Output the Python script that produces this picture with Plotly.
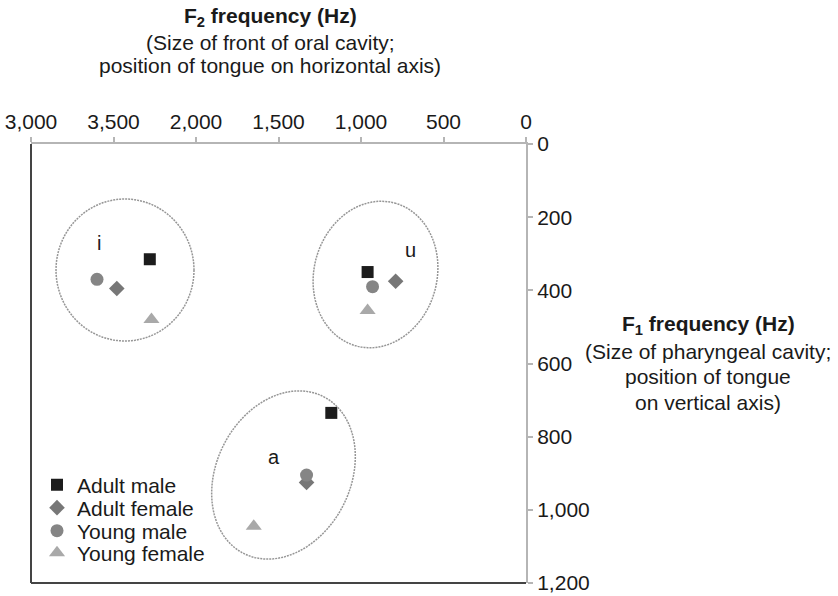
import numpy as np
import plotly.graph_objects as go

# ---- data ----
series_names = ["Adult male", "Adult female", "Young male", "Young female"]
vowels = ["i", "u", "a"]
# F2 (Hz) per vowel [i, u, a]
f2_adult_male = [2280, 960, 1180]
f2_adult_female = [2480, 790, 1330]
f2_young_male = [2600, 930, 1330]
f2_young_female = [2270, 960, 1650]
# F1 (Hz) per vowel [i, u, a]
f1_adult_male = [315, 350, 735]
f1_adult_female = [395, 375, 925]
f1_young_male = [370, 390, 905]
f1_young_female = [480, 455, 1045]

x_tickvals = [3000, 2500, 2000, 1500, 1000, 500, 0]
x_ticktext = ["3,000", "3,500", "2,000", "1,500", "1,000", "500", "0"]
y_tickvals = [0, 200, 400, 600, 800, 1000, 1200]
y_ticktext = ["0", "200", "400", "600", "800", "1,000", "1,200"]

# vowel label positions (F2, F1)
vowel_label_f2 = [2590, 700, 1530]
vowel_label_f1 = [270, 290, 855]

FONT = "Liberation Sans, Arial, Helvetica, sans-serif"
TXT = "#1a1a1a"

W, H = 838, 596
L, R, T, B = 31, 526, 144, 583

styles = [
    dict(symbol="square", color="#1c1c1c", size=12),
    dict(symbol="diamond", color="#777777", size=12),
    dict(symbol="circle", color="#858585", size=13),
    dict(symbol="triangle-up", color="#a9a9a9", size=14),
]
f2s = [f2_adult_male, f2_adult_female, f2_young_male, f2_young_female]
f1s = [f1_adult_male, f1_adult_female, f1_young_male, f1_young_female]
legend_ids = ["legend", "legend2", "legend3", "legend4"]
legend_rows_px = [485, 508, 531, 553]

fig = go.Figure()
for name, st, xs, ys, lid in zip(series_names, styles, f2s, f1s, legend_ids):
    fig.add_trace(go.Scatter(
        x=xs, y=ys, mode="markers", name=name, legend=lid,
        marker=dict(symbol=st["symbol"], color=st["color"], size=st["size"], line=dict(width=0)),
    ))

# ---- ellipses (grouping outlines) ----
sx = (R - L) / 3000.0
sy = (B - T) / 1200.0


def to_data(px, py):
    return (R - px) / sx, (py - T) / sy


def ellipse_path(cx, cy, a, b, theta_deg):
    th = np.radians(theta_deg)
    u = np.array([np.sin(th), -np.cos(th)])
    v = np.array([np.cos(th), np.sin(th)])
    t = np.linspace(0, 2 * np.pi, 120)
    pts = []
    for tt in t:
        p = np.array([cx, cy]) + a * np.cos(tt) * u + b * np.sin(tt) * v
        pts.append(to_data(p[0], p[1]))
    return "M " + " L ".join(f"{x:.2f},{y:.2f}" for x, y in pts) + " Z"

ell_style = dict(color="#969696", width=1.5, dash="2px,1px")
fig.add_shape(type="path", xref="x", yref="y", path=ellipse_path(125, 270, 69, 71, 90), line=ell_style)
fig.add_shape(type="path", xref="x", yref="y", path=ellipse_path(375.5, 274.5, 74, 61.5, 15), line=ell_style)
fig.add_shape(type="path", xref="x", yref="y", path=ellipse_path(283.5, 475, 88, 67, 27), line=ell_style)

# dark left/bottom frame lines
fig.add_shape(type="line", xref="paper", yref="paper", x0=0, x1=0, y0=0, y1=1,
              line=dict(color="#444444", width=2))
fig.add_shape(type="line", xref="paper", yref="paper", x0=0, x1=1, y0=0, y1=0,
              line=dict(color="#444444", width=2))

# vowel labels
for v, xv, yv in zip(vowels, vowel_label_f2, vowel_label_f1):
    fig.add_annotation(x=xv, y=yv, xref="x", yref="y", text=v, showarrow=False,
                       font=dict(family=FONT, size=20, color=TXT))


def px2paper(px, py):
    return (px - L) / (R - L), (B - py) / (B - T)

top_lines = [("F<sub>2</sub> frequency (Hz)", True, 17),
             ("(Size of front of oral cavity;", False, 42),
             ("position of tongue on horizontal axis)", False, 66)]
for txt, bold, py in top_lines:
    xp, yp = px2paper(270, py)
    fig.add_annotation(x=xp, y=yp, xref="paper", yref="paper", text=f"<b>{txt}</b>" if bold else txt,
                       showarrow=False, xanchor="center", yanchor="middle",
                       font=dict(family=FONT, size=21, color=TXT))

right_lines = [("F<sub>1</sub> frequency (Hz)", True, 325),
               ("(Size of pharyngeal cavity;", False, 351),
               ("position of tongue", False, 376),
               ("on vertical axis)", False, 402)]
for txt, bold, py in right_lines:
    xp, yp = px2paper(708, py)
    fig.add_annotation(x=xp, y=yp, xref="paper", yref="paper", text=f"<b>{txt}</b>" if bold else txt,
                       showarrow=False, xanchor="center", yanchor="middle",
                       font=dict(family=FONT, size=21, color=TXT))

legend_common = dict(xanchor="left", yanchor="middle", bgcolor="rgba(0,0,0,0)",
                     font=dict(family=FONT, size=21, color=TXT), itemclick=False,
                     borderwidth=0)
legend_layouts = {}
for lid, py in zip(legend_ids, legend_rows_px):
    xp, yp = px2paper(37, py)
    legend_layouts[lid] = dict(x=xp, y=yp, **legend_common)

fig.update_layout(
    width=W, height=H,
    margin=dict(l=L, r=W - R, t=T, b=H - B, pad=0),
    paper_bgcolor="white", plot_bgcolor="white",
    font=dict(family=FONT, size=20, color=TXT),
    showlegend=True,
    **legend_layouts,
    xaxis=dict(side="top", range=[3000, 0], tickvals=x_tickvals, ticktext=x_ticktext,
               automargin=False,
               showgrid=False, zeroline=False, showline=True, linecolor="#b5b5b5", linewidth=2,
               ticks="outside", ticklen=5, tickcolor="#b5b5b5", tickwidth=1.5,
               tickfont=dict(family=FONT, size=21, color=TXT)),
    yaxis=dict(side="right", range=[1200, 0], tickvals=y_tickvals, ticktext=y_ticktext,
               automargin=False,
               showgrid=False, zeroline=False, showline=True, linecolor="#b5b5b5", linewidth=2,
               ticks="outside", ticklen=5, tickcolor="#b5b5b5", tickwidth=1.5,
               tickfont=dict(family=FONT, size=21, color=TXT)),
)

fig.write_html("out.html", config={"displayModeBar": False},
               post_script="document.body.style.margin='0px';")
